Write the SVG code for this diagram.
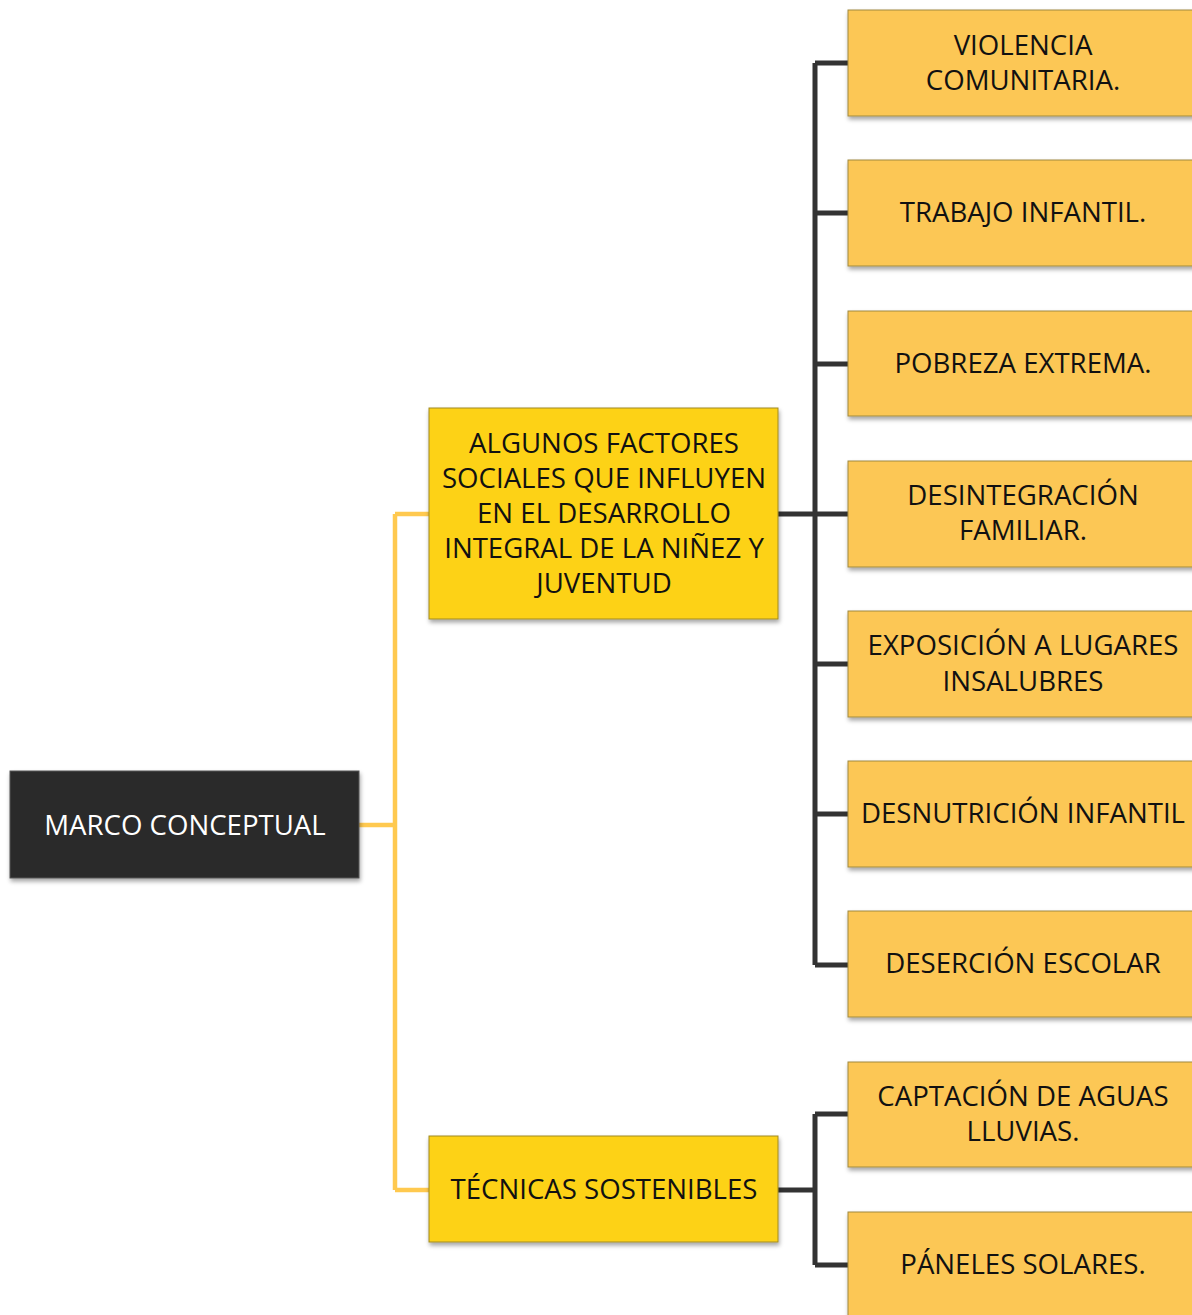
<svg xmlns="http://www.w3.org/2000/svg" width="1192" height="1315" viewBox="0 0 1192 1315">
<defs>
<filter id="sh" x="-5%" y="-5%" width="115%" height="125%">
<feDropShadow dx="1" dy="3" stdDeviation="2" flood-color="#000" flood-opacity="0.35"/>
</filter>
</defs>
<style>
.t{font-family:"Open Sans","Liberation Sans",sans-serif;font-size:27.6px;text-anchor:middle;fill:#111}
.w{fill:#fff}
.dark{fill:#2a2a2a;stroke:#555;stroke-width:1}
.main{fill:#FDD216;stroke:#a08a20;stroke-width:1}
.leaf{fill:#FCC755;stroke:#a08a40;stroke-width:1}
.cy{fill:none;stroke:#FFC94F;stroke-width:4.5}
.cd{fill:none;stroke:#333;stroke-width:5}
</style>
<rect width="1192" height="1315" fill="#fff"/>
<g id="connectors">
<path class="cy" d="M359 825H395M395 514V1190M395 514H429M395 1190H429"/>
<path class="cd" d="M778 514H815M815 63V965M815 63H848M815 213H848M815 364H848M815 514H848M815 664H848M815 814H848M815 965H848"/>
<path class="cd" d="M778 1190H815M815 1114V1265M815 1114H848M815 1265H848"/>
</g>
<g id="n-marco"><rect class="dark" x="10" y="771" width="349" height="107" filter="url(#sh)"/><text class="t w" x="185" y="835">MARCO CONCEPTUAL</text></g>
<g id="n-factores"><rect class="main" x="429" y="408" width="349" height="211" filter="url(#sh)"/>
<text class="t" x="604" y="453">ALGUNOS FACTORES</text>
<text class="t" x="604" y="488">SOCIALES QUE INFLUYEN</text>
<text class="t" x="604" y="523">EN EL DESARROLLO</text>
<text class="t" x="604" y="558">INTEGRAL DE LA NIÑEZ Y</text>
<text class="t" x="604" y="593">JUVENTUD</text></g>
<g id="n-tecnicas"><rect class="main" x="429" y="1136" width="349" height="106" filter="url(#sh)"/><text class="t" x="604" y="1199">TÉCNICAS SOSTENIBLES</text></g>
<g id="n-violencia"><rect class="leaf" x="848" y="10" width="352" height="106" filter="url(#sh)"/><text class="t" x="1023" y="55">VIOLENCIA</text><text class="t" x="1023" y="90">COMUNITARIA.</text></g>
<g id="n-trabajo"><rect class="leaf" x="848" y="160" width="352" height="106" filter="url(#sh)"/><text class="t" x="1023" y="222">TRABAJO INFANTIL.</text></g>
<g id="n-pobreza"><rect class="leaf" x="848" y="311" width="352" height="105" filter="url(#sh)"/><text class="t" x="1023" y="373">POBREZA EXTREMA.</text></g>
<g id="n-desintegracion"><rect class="leaf" x="848" y="461" width="352" height="106" filter="url(#sh)"/><text class="t" x="1023" y="505">DESINTEGRACIÓN</text><text class="t" x="1023" y="540">FAMILIAR.</text></g>
<g id="n-exposicion"><rect class="leaf" x="848" y="611" width="352" height="106" filter="url(#sh)"/><text class="t" x="1023" y="655">EXPOSICIÓN A LUGARES</text><text class="t" x="1023" y="691">INSALUBRES</text></g>
<g id="n-desnutricion"><rect class="leaf" x="848" y="761" width="352" height="106" filter="url(#sh)"/><text class="t" x="1023" y="823">DESNUTRICIÓN INFANTIL</text></g>
<g id="n-desercion"><rect class="leaf" x="848" y="911" width="352" height="106" filter="url(#sh)"/><text class="t" x="1023" y="973">DESERCIÓN ESCOLAR</text></g>
<g id="n-captacion"><rect class="leaf" x="848" y="1062" width="352" height="105" filter="url(#sh)"/><text class="t" x="1023" y="1106">CAPTACIÓN DE AGUAS</text><text class="t" x="1023" y="1141">LLUVIAS.</text></g>
<g id="n-paneles"><rect class="leaf" x="848" y="1212" width="352" height="120" filter="url(#sh)"/><text class="t" x="1023" y="1274">PÁNELES SOLARES.</text></g>
</svg>
